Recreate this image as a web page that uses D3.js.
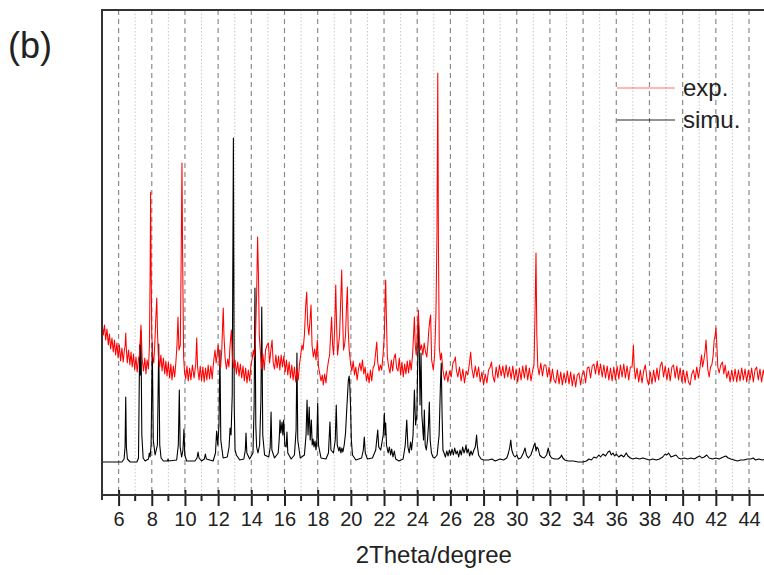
<!DOCTYPE html>
<html><head><meta charset="utf-8">
<script src="https://cdn.jsdelivr.net/npm/d3@7"></script>
<style>
html,body{margin:0;padding:0;background:#fff;}
svg{display:block;}
text{font-family:Arial,"Liberation Sans",sans-serif;fill:#222;}
</style></head>
<body>
<svg id="chart" width="764" height="575"></svg>
<script>
// ---- data (2θ in degrees, intensity in arbitrary units) ----
const majorTicks = [6,8,10,12,14,16,18,20,22,24,26,28,30,32,34,36,38,40,42,44];
const minorTicks = [7,9,11,13,15,17,19,21,23,25,27,29,31,33,35,37,39,41,43];
const seriesNames = ["exp.", "simu."];
const xLabel = "2Theta/degree";
const panelLabel = "(b)";

const expData = [
[5.00,172],[5.08,160],[5.15,170],[5.22,155],[5.30,166],[5.38,150],[5.45,161],[5.52,146],[5.60,157],[5.68,143],[5.75,155],[5.82,140],[5.90,152],[5.97,137],[6.05,150],[6.12,134],[6.20,147],[6.28,133],[6.35,145],[6.40,150],[6.43,162],[6.47,146],[6.52,132],[6.60,145],[6.68,130],[6.75,143],[6.82,128],[6.90,141],[6.97,125],[7.05,138],[7.12,123],[7.20,136],[7.26,140],[7.32,160],[7.35,170],[7.38,158],[7.42,136],[7.50,124],[7.58,137],[7.65,121],[7.72,135],[7.80,126],[7.86,150],[7.90,220],[7.93,303],[7.96,230],[8.00,160],[8.06,138],[8.12,132],[8.18,150],[8.24,175],[8.30,197],[8.35,160],[8.40,138],[8.48,128],[8.55,140],[8.62,124],[8.70,137],[8.78,121],[8.85,134],[8.92,119],[9.00,133],[9.08,117],[9.15,131],[9.22,115],[9.30,129],[9.38,118],[9.45,132],[9.52,150],[9.58,178],[9.64,145],[9.72,150],[9.78,250],[9.82,332],[9.86,240],[9.92,138],[9.98,122],[10.05,116],[10.12,129],[10.20,114],[10.28,127],[10.36,115],[10.45,130],[10.55,117],[10.65,131],[10.71,157],[10.76,128],[10.85,115],[10.92,129],[11.00,114],[11.08,128],[11.16,113],[11.24,127],[11.32,115],[11.40,130],[11.48,116],[11.56,129],[11.64,116],[11.72,132],[11.81,145],[11.88,132],[11.94,140],[12.00,150],[12.08,132],[12.15,128],[12.22,145],[12.28,175],[12.31,187],[12.35,160],[12.42,137],[12.50,126],[12.58,136],[12.65,128],[12.72,150],[12.80,165],[12.86,138],[12.94,127],[13.02,135],[13.10,121],[13.18,133],[13.26,119],[13.34,131],[13.42,117],[13.50,129],[13.58,114],[13.66,127],[13.74,112],[13.82,125],[13.90,114],[13.98,130],[14.05,136],[14.12,145],[14.18,138],[14.24,150],[14.32,200],[14.38,258],[14.43,220],[14.48,160],[14.55,142],[14.62,126],[14.70,141],[14.78,125],[14.86,145],[14.95,150],[15.03,152],[15.10,132],[15.18,145],[15.25,155],[15.32,132],[15.40,126],[15.48,140],[15.56,127],[15.64,139],[15.72,125],[15.80,140],[15.88,128],[15.96,139],[16.04,123],[16.12,135],[16.20,120],[16.28,133],[16.36,117],[16.44,130],[16.52,115],[16.60,128],[16.68,113],[16.76,126],[16.83,115],[16.90,130],[16.98,140],[17.05,150],[17.12,145],[17.20,160],[17.28,190],[17.34,203],[17.40,170],[17.47,160],[17.54,175],[17.60,190],[17.66,150],[17.74,138],[17.82,146],[17.90,135],[17.98,155],[18.05,128],[18.12,122],[18.20,114],[18.28,120],[18.34,110],[18.42,121],[18.50,112],[18.58,126],[18.66,135],[18.72,140],[18.78,160],[18.84,178],[18.90,150],[18.96,140],[19.03,170],[19.09,210],[19.14,170],[19.20,140],[19.26,150],[19.32,160],[19.40,200],[19.45,225],[19.50,180],[19.56,145],[19.62,150],[19.68,160],[19.74,190],[19.79,208],[19.84,165],[19.90,145],[19.98,132],[20.06,124],[20.14,134],[20.22,120],[20.30,128],[20.38,115],[20.46,126],[20.54,132],[20.62,124],[20.70,135],[20.78,121],[20.86,128],[20.94,114],[21.02,122],[21.10,112],[21.18,125],[21.26,114],[21.34,127],[21.42,130],[21.48,140],[21.56,153],[21.62,133],[21.70,124],[21.78,130],[21.86,125],[21.94,140],[22.02,160],[22.07,200],[22.10,215],[22.14,180],[22.20,138],[22.28,128],[22.36,122],[22.44,135],[22.52,124],[22.60,137],[22.68,141],[22.76,127],[22.84,124],[22.92,137],[23.00,120],[23.08,133],[23.16,118],[23.24,131],[23.32,121],[23.40,134],[23.48,122],[23.56,135],[23.64,125],[23.72,140],[23.78,160],[23.83,178],[23.88,150],[23.94,140],[24.00,160],[24.07,185],[24.12,160],[24.18,145],[24.26,150],[24.34,140],[24.42,152],[24.50,143],[24.58,138],[24.64,150],[24.70,165],[24.76,175],[24.81,180],[24.87,135],[24.97,125],[25.05,140],[25.13,182],[25.19,260],[25.24,422],[25.28,250],[25.33,148],[25.40,135],[25.46,142],[25.55,125],[25.65,115],[25.75,124],[25.85,113],[25.95,124],[26.05,118],[26.15,132],[26.25,135],[26.30,138],[26.36,125],[26.45,118],[26.55,128],[26.65,114],[26.75,126],[26.85,112],[26.95,124],[27.05,120],[27.15,132],[27.22,143],[27.30,126],[27.40,117],[27.50,129],[27.60,118],[27.70,128],[27.80,113],[27.90,123],[28.00,110],[28.10,121],[28.20,112],[28.30,125],[28.40,128],[28.48,133],[28.56,119],[28.66,113],[28.76,128],[28.86,117],[28.96,130],[29.06,119],[29.16,129],[29.26,117],[29.36,130],[29.46,118],[29.56,128],[29.66,116],[29.76,129],[29.86,115],[29.96,126],[30.06,113],[30.16,127],[30.26,115],[30.36,129],[30.46,117],[30.56,130],[30.66,115],[30.76,127],[30.86,114],[30.96,125],[31.04,130],[31.10,180],[31.16,242],[31.21,160],[31.27,128],[31.35,120],[31.45,132],[31.55,119],[31.65,130],[31.75,130],[31.85,118],[31.95,128],[32.05,113],[32.15,126],[32.25,115],[32.35,112],[32.45,125],[32.55,111],[32.65,123],[32.75,110],[32.85,122],[32.95,112],[33.05,124],[33.15,111],[33.25,123],[33.35,109],[33.45,121],[33.55,108],[33.65,120],[33.75,122],[33.85,110],[33.95,121],[34.05,124],[34.15,112],[34.25,127],[34.35,128],[34.45,117],[34.55,129],[34.65,131],[34.75,121],[34.85,134],[34.95,120],[35.05,131],[35.15,118],[35.25,130],[35.35,117],[35.45,129],[35.55,115],[35.65,127],[35.75,114],[35.85,128],[35.95,115],[36.05,129],[36.15,116],[36.25,130],[36.35,118],[36.45,131],[36.55,117],[36.65,129],[36.75,115],[36.85,128],[36.95,128],[37.00,140],[37.03,150],[37.08,128],[37.15,116],[37.25,127],[37.35,113],[37.45,125],[37.55,112],[37.65,124],[37.75,130],[37.85,116],[37.95,110],[38.05,123],[38.15,111],[38.25,125],[38.35,113],[38.45,127],[38.55,115],[38.65,129],[38.75,133],[38.85,118],[38.95,129],[39.05,115],[39.15,127],[39.25,114],[39.35,128],[39.45,130],[39.55,117],[39.65,129],[39.75,115],[39.85,127],[39.95,113],[40.05,125],[40.15,112],[40.25,124],[40.35,113],[40.45,110],[40.55,121],[40.65,125],[40.75,115],[40.85,128],[40.95,117],[41.05,128],[41.10,135],[41.14,140],[41.20,128],[41.28,135],[41.36,145],[41.41,155],[41.46,140],[41.52,125],[41.60,118],[41.68,128],[41.76,130],[41.84,140],[41.90,155],[41.96,160],[42.01,167],[42.06,150],[42.12,128],[42.20,122],[42.30,130],[42.40,133],[42.48,121],[42.56,130],[42.66,117],[42.76,124],[42.86,113],[42.96,125],[43.06,114],[43.16,126],[43.26,113],[43.36,125],[43.46,114],[43.56,127],[43.66,115],[43.76,126],[43.86,113],[43.96,125],[44.06,115],[44.16,127],[44.26,113],[44.36,125],[44.46,128],[44.56,115],[44.66,126],[44.76,113],[44.86,125],[44.96,117]
];

const simuData = [
[5.0,33],[6.2,33],[6.33,36],[6.39,48],[6.43,98],[6.47,48],[6.53,36],[6.7,33],[7.1,33],[7.2,37],[7.27,150],[7.31,120],[7.35,164],[7.40,60],[7.48,37],[7.6,34],[7.8,36],[7.85,42],[7.9,38],[7.96,50],[8.03,152],[8.09,55],[8.2,40],[8.34,50],[8.42,151],[8.48,50],[8.56,37],[8.7,34],[8.95,34],[8.98,36],[9.02,34],[9.5,35],[9.6,50],[9.66,105],[9.71,48],[9.8,38],[9.88,45],[9.94,66],[9.99,40],[10.1,34],[10.6,34],[10.73,37],[10.79,43],[10.85,37],[11.0,34],[11.17,36],[11.23,41],[11.29,36],[11.7,34],[11.84,42],[11.91,64],[11.98,50],[12.05,70],[12.11,145],[12.16,55],[12.3,37],[12.55,38],[12.66,48],[12.72,67],[12.78,60],[12.85,100],[12.92,357],[12.97,90],[13.02,45],[13.1,40],[13.3,35],[13.55,36],[13.64,45],[13.68,62],[13.73,42],[13.9,36],[14.1,42],[14.17,90],[14.22,207],[14.27,70],[14.32,48],[14.4,42],[14.5,50],[14.58,95],[14.63,188],[14.69,60],[14.8,40],[15.05,38],[15.14,48],[15.19,83],[15.24,45],[15.4,37],[15.62,42],[15.68,55],[15.73,75],[15.78,62],[15.85,73],[15.9,60],[15.95,75],[16.02,50],[16.1,48],[16.15,63],[16.2,42],[16.4,36],[16.6,40],[16.7,65],[16.75,142],[16.8,55],[16.95,37],[17.2,40],[17.3,60],[17.36,95],[17.42,60],[17.49,88],[17.55,55],[17.62,75],[17.67,50],[17.72,56],[17.78,48],[17.84,54],[17.9,45],[17.95,55],[18.0,92],[18.05,50],[18.2,37],[18.5,36],[18.65,42],[18.74,73],[18.8,45],[18.95,42],[19.06,55],[19.12,90],[19.18,50],[19.28,44],[19.34,48],[19.4,42],[19.46,47],[19.52,43],[19.6,50],[19.68,62],[19.75,85],[19.8,100],[19.85,115],[19.9,119],[19.94,108],[19.98,90],[20.03,55],[20.1,40],[20.3,35],[20.65,37],[20.75,45],[20.81,58],[20.87,42],[21.0,36],[21.3,37],[21.5,45],[21.62,65],[21.68,48],[21.8,45],[21.95,60],[22.02,82],[22.06,60],[22.1,72],[22.15,50],[22.25,42],[22.32,48],[22.4,40],[22.46,46],[22.54,38],[22.62,44],[22.7,36],[22.9,34],[23.15,36],[23.28,50],[23.37,75],[23.44,48],[23.52,42],[23.6,53],[23.66,45],[23.75,60],[23.83,105],[23.9,70],[23.98,80],[24.07,175],[24.12,150],[24.17,90],[24.23,142],[24.28,80],[24.33,68],[24.38,55],[24.43,85],[24.48,50],[24.55,45],[24.62,55],[24.68,70],[24.73,93],[24.78,55],[24.86,42],[24.95,38],[25.05,37],[25.2,40],[25.32,60],[25.4,110],[25.45,132],[25.5,80],[25.55,45],[25.62,42],[25.7,38],[25.78,44],[25.86,39],[25.94,45],[26.02,40],[26.1,46],[26.18,40],[26.26,47],[26.34,41],[26.42,44],[26.5,38],[26.58,45],[26.66,40],[26.74,48],[26.82,42],[26.9,46],[26.94,50],[27.0,42],[27.08,46],[27.16,39],[27.24,44],[27.32,40],[27.42,45],[27.5,48],[27.55,55],[27.58,60],[27.62,50],[27.7,40],[27.85,36],[28.0,35],[28.3,35],[28.5,36],[28.7,34],[29.0,36],[29.2,35],[29.4,37],[29.5,42],[29.58,48],[29.64,55],[29.7,45],[29.8,40],[29.9,38],[30.0,40],[30.1,36],[30.25,37],[30.4,42],[30.5,47],[30.58,40],[30.7,37],[30.85,40],[30.95,45],[31.05,50],[31.1,52],[31.16,44],[31.22,48],[31.3,46],[31.38,40],[31.5,38],[31.65,37],[31.8,40],[31.9,47],[31.98,40],[32.1,37],[32.3,36],[32.5,36],[32.65,38],[32.7,40],[32.78,37],[32.9,35],[33.1,34],[33.4,34],[33.7,33],[34.0,33],[34.2,34],[34.35,36],[34.5,35],[34.65,38],[34.8,37],[34.95,40],[35.05,38],[35.2,41],[35.35,39],[35.5,43],[35.6,44],[35.7,40],[35.8,42],[35.9,39],[36.0,41],[36.15,38],[36.3,40],[36.45,38],[36.6,42],[36.7,39],[36.85,37],[37.0,36],[37.2,37],[37.4,36],[37.6,37],[37.8,36],[38.0,35],[38.2,36],[38.4,35],[38.6,36],[38.8,38],[38.95,41],[39.05,40],[39.15,42],[39.3,38],[39.45,39],[39.6,40],[39.75,37],[39.9,36],[40.1,37],[40.3,36],[40.5,37],[40.7,36],[40.9,38],[41.04,39],[41.15,37],[41.3,38],[41.45,40],[41.6,37],[41.8,36],[42.0,37],[42.2,36],[42.45,38],[42.6,39],[42.75,37],[42.9,36],[43.1,35],[43.3,34],[43.5,35],[43.7,35],[43.9,36],[44.1,36],[44.25,37],[44.4,35],[44.6,36],[44.8,35],[45.0,36]
];

// ---- layout ----
const svg = d3.select("#chart");
const mLeft = 102, mTop = 10, mBottom = 495, mRight = 765.6;

const x = d3.scaleLinear().domain([5,45]).range([mLeft,mRight]);
const y = d3.scaleLinear().domain([0,485]).range([mBottom,mTop]);

// grid
const grid = svg.append("g");
grid.selectAll("line.minorg").data(minorTicks).join("line").attr("class","minorg")
  .attr("x1",d=>x(d)).attr("x2",d=>x(d)).attr("y1",mTop).attr("y2",mBottom)
  .attr("stroke","#c8c8c8").attr("stroke-width",1).attr("stroke-dasharray","1.5,2");
grid.selectAll("line.majorg").data(majorTicks).join("line").attr("class","majorg")
  .attr("x1",d=>x(d)).attr("x2",d=>x(d)).attr("y1",mTop).attr("y2",mBottom)
  .attr("stroke","#8c8c8c").attr("stroke-width",1.2).attr("stroke-dasharray","5,4");

// curves
const line = d3.line().x(d=>x(d[0])).y(d=>y(d[1]));
svg.append("path").datum(simuData).attr("d",line)
  .attr("fill","none").attr("stroke","#000").attr("stroke-width",1.1).attr("stroke-linejoin","round");
svg.append("path").datum(expData).attr("d",line)
  .attr("fill","none").attr("stroke","#ff0000").attr("stroke-width",1.05).attr("stroke-linejoin","round");

// frame
svg.append("line").attr("x1",mLeft).attr("x2",766).attr("y1",mTop).attr("y2",mTop)
  .attr("stroke","#333").attr("stroke-width",2);
svg.append("line").attr("x1",mLeft).attr("x2",mLeft).attr("y1",mTop-1).attr("y2",mBottom+5)
  .attr("stroke","#333").attr("stroke-width",2);

// x axis
const axis = d3.axisBottom(x).tickValues(majorTicks).tickSize(11).tickPadding(6).tickFormat(d3.format("d"));
const gx = svg.append("g").attr("transform",`translate(0,${mBottom})`).call(axis);
gx.select(".domain").remove();
gx.selectAll(".tick line").attr("y1",-5).attr("stroke","#222").attr("stroke-width",2);
gx.selectAll(".tick text").attr("font-size",20).attr("font-family","Arial, 'Liberation Sans', sans-serif").attr("fill","#222");
gx.selectAll("line.minort").data(minorTicks).join("line").attr("class","minort")
  .attr("x1",d=>x(d)).attr("x2",d=>x(d)).attr("y1",0).attr("y2",6)
  .attr("stroke","#222").attr("stroke-width",2);
svg.append("line").attr("x1",mLeft-1).attr("x2",766).attr("y1",mBottom).attr("y2",mBottom)
  .attr("stroke","#333").attr("stroke-width",2);

// axis title
svg.append("text").attr("x",(mLeft+mRight)/2).attr("y",563).attr("text-anchor","middle")
  .attr("font-size",24).text(xLabel);

// panel label
svg.append("text").attr("x",8).attr("y",58).attr("font-size",36)
  .attr("font-family","'Open Sans', Arial, sans-serif").text(panelLabel);

// legend
const legend = svg.append("g");
const legColors = ["#ff0000","#000"];
seriesNames.forEach((name,i)=>{
  const ly = 88 + i*32;
  legend.append("line").attr("x1",617).attr("x2",675).attr("y1",ly).attr("y2",ly)
    .attr("stroke",legColors[i]).attr("stroke-width",i===0?1:1.2).attr("opacity",i===0?0.55:0.85);
  legend.append("text").attr("x",683).attr("y",ly+8).attr("font-size",24).text(name);
});
</script>
</body></html>
